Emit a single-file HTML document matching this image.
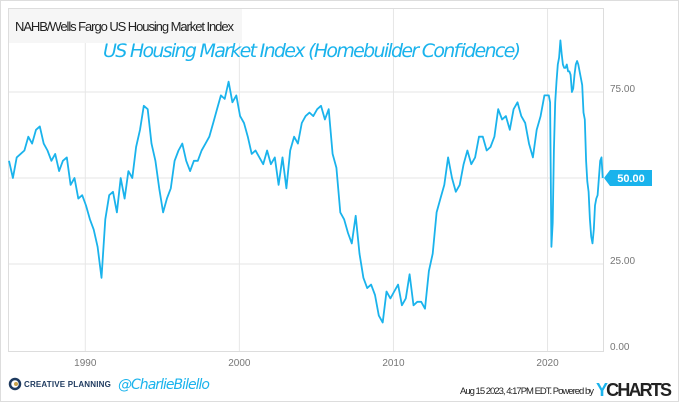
<!DOCTYPE html>
<html><head><meta charset="utf-8"><style>
body{margin:0;background:#fff;}
svg{display:block;font-family:"Liberation Sans",sans-serif;}
</style></head><body>
<svg width="679" height="402" viewBox="0 0 679 402">
<rect x="0.5" y="0.5" width="678" height="401" fill="#fff" stroke="#ddd"/>
<g id="grid"></g>
<rect x="8.5" y="8.5" width="595" height="343" fill="none" stroke="#ddd"/>
<rect x="9" y="9" width="233" height="34" fill="#f6f6f6"/>
<text x="15" y="31" font-size="13" fill="#222" textLength="219">NAHB/Wells Fargo US Housing Market Index</text>
<text x="103" y="57" font-size="19" fill="#1ab3ec" font-style="italic" textLength="418" font-family="'DejaVu Sans',sans-serif">US Housing Market Index (Homebuilder Confidence)</text>
<path id="line" fill="none" stroke="#1ab3ec" stroke-width="1.8" stroke-linejoin="round"/>
<g id="ylab"></g>
<g id="xlab"></g>
<g>
<path id="badge" fill="#1ab3ec"/>
<text id="badgeText" x="628" y="184" font-size="11" font-weight="bold" fill="#fff" text-anchor="middle">50.00</text>
</g>
<g>
<circle cx="15" cy="384" r="5" fill="none" stroke="#1e3a5f" stroke-width="2.5"/>
<circle cx="16" cy="384" r="2" fill="#c9a24a"/>
<text x="24" y="387" font-size="8" font-weight="bold" fill="#1e3a5f" letter-spacing="1.2" textLength="88">CREATIVE PLANNING</text>
</g>
<text x="118" y="389" font-size="14" font-style="italic" fill="#1ab3ec" font-family="'DejaVu Sans',sans-serif" textLength="92">@CharlieBilello</text>
<text x="460" y="394" font-size="9.5" fill="#222" textLength="134">Aug 15 2023, 4:17PM EDT.  Powered by</text>
<text x="596" y="396" font-size="18" font-weight="bold" fill="#222" textLength="76"><tspan fill="#1ab3ec">Y</tspan>CHARTS</text>
</svg>
<script>
const quarterlyStart = 1985;
const quarterlyValues = [
55,50,56,57, 58,62,60,64, 65,60,58,55, 57,52,55,56, 48,50,44,45,
42,38,35,30, 21,38,45,46, 40,50,44,52, 50,59,64,71, 70,60,55,47,
40,44,47,55, 58,60,55,52, 55,55,58,60, 62,66,70,74, 73,78,72,74,
68,66,62,57, 58,56,54,58, 54,56,48,56, 47,58,62,60, 66,68,69,68,
70,71,67,70, 57,53,40,38, 34,31,39,28, 21,18,19,16, 10,8,17,15,
17,19,13,15, 22,13,14,14, 12,23,28,40, 44,48,56,50, 46,48,54,58,
54,56,62,62, 58,59,62,70, 67,68,64,70, 72,68,66,60, 56,64,68,74];
const monthlyStart = 2020;
const monthlyValues = [
74,74,72,30,37,58,72,78,83,85,90,86,
83,82,82,83,81,81,80,75,76,80,83,84,
83,81,79,77,69,67,55,49,46,38,33,31,
35,42,44,45,50,55,56,50];
const yTicks = [0,25,50,75];
const yTickLabels = ["0.00","25.00","50.00","75.00"];
const xTicks = [1990,2000,2010,2020];
const lastValueLabel = "50.00";

const X0=9, X1=603, Y0=350;
const xMin=1985.05, xMax=2023.6;
function xs(t){return X0+(t-xMin)/(xMax-xMin)*(X1-X0);}
function ys(v){return Y0-v*3.44;}
const NS="http://www.w3.org/2000/svg";
const grid=document.getElementById('grid');
yTicks.forEach((v,i)=>{
  if(v>0){const l=document.createElementNS(NS,'line');
  l.setAttribute('x1',X0);l.setAttribute('x2',X1);l.setAttribute('y1',ys(v));l.setAttribute('y2',ys(v));
  l.setAttribute('stroke','#e6e6e6');
  
  
  grid.appendChild(l);}
  if(v!==50){const t=document.createElementNS(NS,'text');
  t.setAttribute('x',610);t.setAttribute('y',ys(v));t.setAttribute('font-size','10');t.setAttribute('fill','#777');
  t.textContent=yTickLabels[i];
  
  
  document.getElementById('ylab').appendChild(t);}
});
xTicks.forEach(y=>{
  const l=document.createElementNS(NS,'line');
  l.setAttribute('x1',xs(y));l.setAttribute('x2',xs(y));l.setAttribute('y1',9);l.setAttribute('y2',351);
  l.setAttribute('stroke','#e6e6e6');
  
  
  grid.appendChild(l);
  const t=document.createElementNS(NS,'text');
  t.setAttribute('x',xs(y));t.setAttribute('y',366);t.setAttribute('font-size','10');t.setAttribute('fill','#777');t.setAttribute('text-anchor','middle');
  t.textContent=y;
  
  
  document.getElementById('xlab').appendChild(t);
});
const pts=[];
quarterlyValues.forEach((v,i)=>pts.push([quarterlyStart+i*0.25+0.05,v]));
monthlyValues.forEach((v,i)=>pts.push([monthlyStart+i/12,v]));
document.getElementById('line').setAttribute('d',pts.map((p,i)=>(i?'L':'M')+xs(p[0]).toFixed(1)+','+ys(p[1]).toFixed(1)).join(''));
const lastV=monthlyValues[monthlyValues.length-1];
const by=ys(lastV);
document.getElementById('badge').setAttribute('d',`M604,${by}L610,${by-8}L652,${by-8}L652,${by+8}L610,${by+8}Z`);
const bt=document.getElementById('badgeText');
bt.setAttribute('y',by+4);bt.setAttribute('x',631);
bt.textContent=lastValueLabel;
</script>
</body></html>
